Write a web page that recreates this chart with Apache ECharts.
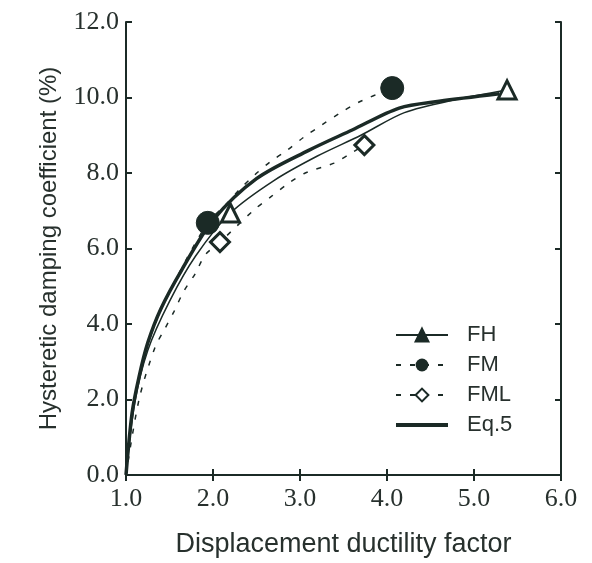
<!DOCTYPE html>
<html>
<head>
<meta charset="utf-8">
<script src="https://cdn.jsdelivr.net/npm/echarts@6/dist/echarts.min.js"></script>
<style>
  html, body { margin: 0; padding: 0; background: #fff; }
  #main { width: 592px; height: 563px; }
</style>
</head>
<body>
<div id="main"></div>
<script>
// curves
const eqX = [1.0, 1.07, 1.15, 1.25, 1.4, 1.64, 2.0, 2.5, 3.1, 3.6, 4.14, 4.6, 5.29]
const eqY = [0, 1.64, 2.6, 3.5, 4.4, 5.43, 6.75, 7.85, 8.6, 9.14, 9.72, 9.9, 10.1]

const fhX = [1.0, 1.1, 1.25, 1.5, 1.8, 2.2, 2.7, 3.2, 3.7, 4.2, 4.8, 5.38]
const fhY = [0, 1.9, 3.3, 4.6, 5.8, 6.94, 7.8, 8.45, 9.0, 9.6, 9.95, 10.2]
const fhMarks = [2.2, 5.38]

const fmX = [1.0, 1.1, 1.3, 1.6, 1.94, 2.14, 2.3, 2.48, 2.66, 2.85, 3.05, 3.25, 3.46, 3.68, 4.06]
const fmY = [0, 2.0, 3.8, 5.3, 6.68, 7.15, 7.55, 7.95, 8.3, 8.6, 8.96, 9.27, 9.59, 9.88, 10.25]
const fmMarks = [1.94, 4.06]

const fmlX = [1.0, 1.15, 1.33, 1.45, 1.55, 1.66, 1.8, 1.91, 2.08, 2.47, 2.66, 2.87, 3.06, 3.39, 3.59, 3.74]
const fmlY = [0, 2.0, 3.36, 3.89, 4.32, 4.85, 5.35, 5.83, 6.17, 7.02, 7.36, 7.73, 8.0, 8.26, 8.53, 8.74]
const fmlMarks = [2.08, 3.74]

const xTicks = [1, 2, 3, 4, 5, 6]
const yTicks = [0, 2, 4, 6, 8, 10, 12]

const ink = '#1b2a26'
const txt = '#27302d'

function toData (xs, ys, marks) {
  return xs.map((x, i) => ({
    value: [x, ys[i]],
    symbol: marks.includes(x) ? undefined : 'none'
  }))
}

const chart = echarts.init(document.getElementById('main'))

chart.setOption({
  animation: false,
  backgroundColor: '#fff',
  grid: { left: 126, right: 31, top: 22, bottom: 88 },
  legend: {
    orient: 'vertical',
    left: 389,
    top: 319,
    itemWidth: 52,
    itemHeight: 16,
    itemGap: 8,
    textStyle: { fontFamily: 'Liberation Sans', fontSize: 22, color: txt, padding: [0, 0, 0, 14] },
    data: [
      { name: 'FH', itemStyle: { color: ink, borderColor: ink } },
      { name: 'FM' },
      { name: 'FML' },
      {
        name: 'Eq.5',
        itemStyle: { color: 'rgba(0,0,0,0)', borderColor: 'rgba(0,0,0,0)', borderWidth: 0 },
        lineStyle: { width: 4, color: ink }
      }
    ]
  },
  xAxis: [
    {
      type: 'value',
      min: xTicks[0],
      max: xTicks[xTicks.length - 1],
      interval: 1,
      name: 'Displacement ductility factor',
      nameLocation: 'middle',
      nameGap: 56,
      nameTextStyle: { fontFamily: 'Liberation Sans', fontSize: 27, color: txt },
      axisLine: { lineStyle: { color: ink, width: 2 } },
      axisTick: { inside: true, length: 6, lineStyle: { color: ink, width: 2 } },
      axisLabel: { margin: 11, fontFamily: 'Liberation Serif', fontSize: 26, color: txt, formatter: v => v.toFixed(1) },
      splitLine: { show: false }
    },
    {
      type: 'value',
      position: 'top',
      min: xTicks[0],
      max: xTicks[xTicks.length - 1],
      interval: 1,
      axisLine: { show: true, lineStyle: { color: ink, width: 2 } },
      axisTick: { inside: true, length: 6, lineStyle: { color: ink, width: 2 } },
      axisLabel: { show: false },
      splitLine: { show: false }
    }
  ],
  yAxis: [
    {
      type: 'value',
      min: yTicks[0],
      max: yTicks[yTicks.length - 1],
      interval: 2,
      name: 'Hysteretic damping coefficient (%)',
      nameLocation: 'middle',
      nameRotate: 90,
      nameGap: 65,
      nameTextStyle: { fontFamily: 'Liberation Sans', fontSize: 24, color: txt },
      axisLine: { show: true, lineStyle: { color: ink, width: 2 } },
      axisTick: { show: true, inside: true, length: 6, lineStyle: { color: ink, width: 2 } },
      axisLabel: { margin: 7, fontFamily: 'Liberation Serif', fontSize: 26, color: txt, formatter: v => v.toFixed(1) },
      splitLine: { show: false }
    },
    {
      type: 'value',
      position: 'right',
      min: yTicks[0],
      max: yTicks[yTicks.length - 1],
      interval: 2,
      axisLine: { show: true, lineStyle: { color: ink, width: 2 } },
      axisTick: { show: true, inside: true, length: 6, lineStyle: { color: ink, width: 2 } },
      axisLabel: { show: false },
      splitLine: { show: false }
    }
  ],
  series: [
    {
      name: 'FH',
      type: 'line',
      smooth: 0.3,
      showAllSymbol: true,
      symbol: 'triangle',
      symbolSize: 18,
      data: toData(fhX, fhY, fhMarks),
      lineStyle: { color: ink, width: 1.5 },
      itemStyle: { color: '#fff', borderColor: ink, borderWidth: 3 },
      z: 3
    },
    {
      name: 'FM',
      type: 'line',
      smooth: 0.3,
      showAllSymbol: true,
      symbol: 'circle',
      symbolSize: 23,
      data: toData(fmX, fmY, fmMarks),
      lineStyle: { color: ink, width: 1.5, type: [5, 9] },
      itemStyle: { color: ink, borderColor: ink },
      z: 4
    },
    {
      name: 'FML',
      type: 'line',
      smooth: 0.3,
      showAllSymbol: true,
      symbol: 'diamond',
      symbolSize: 19,
      data: toData(fmlX, fmlY, fmlMarks),
      lineStyle: { color: ink, width: 1.5, type: [5, 9] },
      itemStyle: { color: '#fff', borderColor: ink, borderWidth: 3 },
      z: 3
    },
    {
      name: 'Eq.5',
      type: 'line',
      smooth: 0.3,
      symbol: 'none',
      data: eqX.map((x, i) => [x, eqY[i]]),
      lineStyle: { color: ink, width: 3.5 },
      itemStyle: { color: ink },
      z: 2
    }
  ]
})
</script>
</body>
</html>
